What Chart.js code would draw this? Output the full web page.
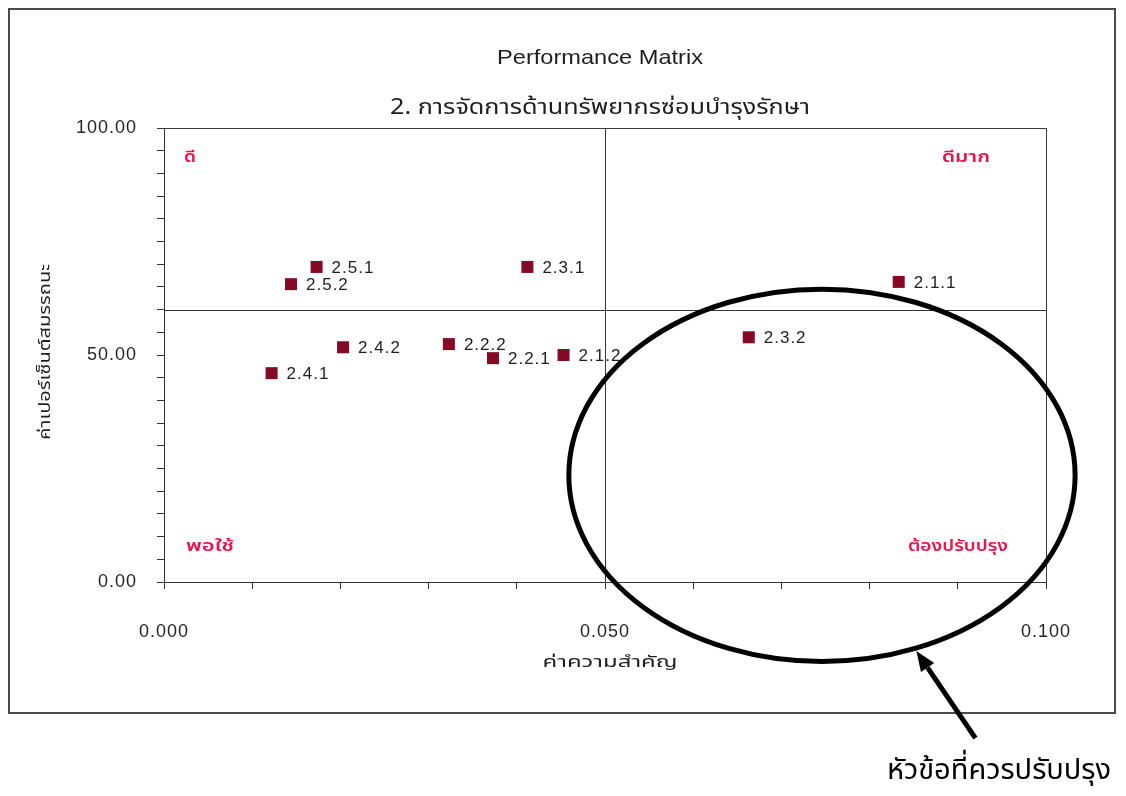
<!DOCTYPE html>
<html>
<head>
<meta charset="utf-8">
<title>Performance Matrix</title>
<script src="https://cdn.jsdelivr.net/npm/chart.js@4/dist/chart.umd.min.js"></script>
<style>
  html, body { margin: 0; padding: 0; background: #ffffff; }
  #wrap { position: relative; width: 1126px; height: 796px; }
</style>
</head>
<body>
<div id="wrap"><canvas id="matrix" width="1126" height="796"></canvas></div>
<script>
// Sub-criteria codes with importance (x) and performance percentage (y)
const itemCodes   = ['2.1.1', '2.1.2', '2.2.1', '2.2.2', '2.3.1', '2.3.2', '2.4.1', '2.4.2', '2.5.1', '2.5.2'];
const importance  = [0.0833, 0.0453, 0.0373, 0.0323, 0.0412, 0.0663, 0.0122, 0.0203, 0.0173, 0.0144];
const performance = [66.1, 50.0, 49.3, 52.4, 69.4, 53.9, 46.0, 51.7, 69.4, 65.6];

// Quadrant split values
const importanceCut  = 0.05;
const performanceCut = 60;

// Axis tick labels shown
const xLabelTicks = [0, 0.05, 0.1];
const yLabelTicks = [0, 50, 100];

// Quadrant captions
const quadrantNames = { topLeft: 'ดี', topRight: 'ดีมาก', bottomLeft: 'พอใช้', bottomRight: 'ต้องปรับปรุง' };

const titleText    = 'Performance Matrix';
const subtitleText = '2. การจัดการด้านทรัพยากรซ่อมบำรุงรักษา';
const xAxisTitle   = 'ค่าความสำคัญ';
const yAxisTitle   = 'ค่าเปอร์เซ็นต์สมรรถนะ';
const calloutText  = 'หัวข้อที่ควรปรับปรุง';

// Highlight ring (in axis units) around the improvement area, with its pointer
const ringCenter = { x: 0.0746, y: 23.5 };
const ringRadius = { x: 0.0287, y: 41 };
const pointerTip  = { x: 0.0853, y: -15.2 };
const pointerTail = { x: 0.0920, y: -34.4 };

const LATIN = '"Liberation Sans", Arial, sans-serif';
const THAI  = '"Noto Sans Thai", "Noto Sans", "Liberation Sans", sans-serif';
const MARK  = '#840a26';
const RED   = '#e8154a';

// Draws a string squeezed or stretched horizontally to a given width
function fitText(ctx, text, x, y, font, width, align) {
  ctx.save();
  ctx.letterSpacing = '0px';
  ctx.font = font;
  const w = ctx.measureText(text).width || 1;
  ctx.translate(x, y);
  ctx.scale(width / w, 1);
  ctx.textAlign = align;
  ctx.textBaseline = 'middle';
  ctx.fillText(text, 0, 0);
  ctx.restore();
}

const decorations = {
  id: 'decorations',
  beforeDraw(chart) {
    const ctx = chart.ctx;
    // slightly open spacing for the tick labels
    ctx.letterSpacing = '1px';
    ctx.save();
    ctx.fillStyle = '#ffffff';
    ctx.fillRect(0, 0, chart.width, chart.height);
    // outer frame
    ctx.strokeStyle = '#4a4a4a';
    ctx.lineWidth = 2;
    ctx.strokeRect(9, 9, 1106, 704);
    ctx.restore();
  },
  beforeDatasetsDraw(chart) {
    const { ctx, chartArea: a, scales: { x, y } } = chart;
    ctx.save();
    // plot border (top / right)
    ctx.strokeStyle = '#3a3a3a';
    ctx.lineWidth = 1;
    ctx.beginPath();
    ctx.moveTo(a.left, a.top + 0.5);
    ctx.lineTo(a.right + 0.5, a.top + 0.5);
    ctx.lineTo(a.right + 0.5, a.bottom);
    ctx.stroke();
    // quadrant split lines
    const cx = Math.round(x.getPixelForValue(importanceCut)) + 0.5;
    const cy = Math.round(y.getPixelForValue(performanceCut)) + 0.5;
    ctx.strokeStyle = '#333333';
    ctx.beginPath();
    ctx.moveTo(cx, a.top); ctx.lineTo(cx, a.bottom);
    ctx.moveTo(a.left, cy); ctx.lineTo(a.right, cy);
    ctx.stroke();

    // quadrant captions
    ctx.fillStyle = RED;
    const qf = '600 15px ' + THAI;
    fitText(ctx, quadrantNames.topLeft, a.left + 20, a.top + 31, qf, 12, 'left');
    fitText(ctx, quadrantNames.bottomLeft, a.left + 22, a.bottom - 34, qf, 48, 'left');
    fitText(ctx, quadrantNames.topRight, a.right - 56, a.top + 31, qf, 48, 'right');
    fitText(ctx, quadrantNames.bottomRight, a.right - 38, a.bottom - 34, qf, 100, 'right');

    // titles
    ctx.fillStyle = '#1e1e1e';
    fitText(ctx, titleText, 600, 58, '21px ' + LATIN, 206, 'center');
    fitText(ctx, subtitleText, 600, 110, '21px ' + THAI, 420, 'center');

    // axis titles
    fitText(ctx, xAxisTitle, 610, 664, '16px ' + THAI, 135, 'center');
    ctx.save();
    ctx.translate(47, 352);
    ctx.rotate(-Math.PI / 2);
    fitText(ctx, yAxisTitle, 0, 0, '16px ' + THAI, 176, 'center');
    ctx.restore();
    ctx.restore();
  },
  afterDatasetsDraw(chart) {
    const { ctx, scales: { x, y } } = chart;
    const meta = chart.getDatasetMeta(0);
    ctx.save();
    // point codes
    ctx.fillStyle = '#1e1e1e';
    ctx.font = '17px ' + LATIN;
    ctx.letterSpacing = '1px';
    ctx.textAlign = 'left';
    ctx.textBaseline = 'middle';
    meta.data.forEach((pt, i) => {
      ctx.fillText(itemCodes[i], pt.x + 15, pt.y + 1);
    });
    ctx.letterSpacing = '0px';

    // highlight ring
    const ex = x.getPixelForValue(ringCenter.x);
    const ey = y.getPixelForValue(ringCenter.y);
    const rx = x.getPixelForValue(ringCenter.x + ringRadius.x) - ex;
    const ry = ey - y.getPixelForValue(ringCenter.y + ringRadius.y);
    ctx.strokeStyle = '#000000';
    ctx.lineWidth = 5;
    ctx.beginPath();
    ctx.ellipse(ex, ey, rx, ry, 0, 0, Math.PI * 2);
    ctx.stroke();

    // pointer arrow
    const tx = x.getPixelForValue(pointerTip.x), ty = y.getPixelForValue(pointerTip.y);
    const sx = x.getPixelForValue(pointerTail.x), sy = y.getPixelForValue(pointerTail.y);
    const ang = Math.atan2(ty - sy, tx - sx);
    const head = 20, half = 8;
    const bx = tx - head * Math.cos(ang), by = ty - head * Math.sin(ang);
    ctx.beginPath();
    ctx.moveTo(sx, sy);
    ctx.lineTo(bx, by);
    ctx.stroke();
    ctx.fillStyle = '#000000';
    ctx.beginPath();
    ctx.moveTo(tx, ty);
    ctx.lineTo(bx + half * Math.sin(ang), by - half * Math.cos(ang));
    ctx.lineTo(bx - half * Math.sin(ang), by + half * Math.cos(ang));
    ctx.closePath();
    ctx.fill();

    // callout caption
    ctx.fillStyle = '#000000';
    ctx.font = '29px ' + THAI;
    ctx.textAlign = 'center';
    ctx.fillText(calloutText, 999, 773);
    ctx.restore();
  }
};

new Chart(document.getElementById('matrix'), {
  type: 'scatter',
  data: {
    datasets: [{
      label: 'items',
      data: importance.map((v, i) => ({ x: v, y: performance[i] })),
      pointStyle: 'rect',
      pointRadius: 8.5,
      pointHoverRadius: 8.5,
      backgroundColor: MARK,
      borderColor: MARK,
      borderWidth: 0
    }]
  },
  options: {
    responsive: false,
    animation: false,
    events: [],
    layout: { padding: { left: 0, top: 128, right: 80, bottom: 0 } },
    plugins: { legend: { display: false }, tooltip: { enabled: false }, title: { display: false } },
    scales: {
      x: {
        type: 'linear',
        min: 0, max: 0.1,
        afterFit(s) { s.height = 214; },
        afterBuildTicks(s) {
          s.ticks = Array.from({ length: 11 }, (_, k) => ({ value: k / 100 }));
        },
        border: { display: true, color: '#333333', width: 1 },
        grid: { drawOnChartArea: false, drawTicks: true, tickLength: 7, color: '#333333' },
        ticks: {
          autoSkip: false,
          maxRotation: 0,
          padding: 32,
          color: '#262626',
          font: { family: LATIN, size: 18 },
          callback(v) {
            return xLabelTicks.some(t => Math.abs(t - v) < 1e-9) ? Number(v).toFixed(3) : '';
          }
        }
      },
      y: {
        type: 'linear',
        min: 0, max: 100,
        afterFit(s) { s.width = 164; },
        afterBuildTicks(s) {
          s.ticks = Array.from({ length: 21 }, (_, k) => ({ value: k * 5 }));
        },
        border: { display: true, color: '#333333', width: 1 },
        grid: { drawOnChartArea: false, drawTicks: true, tickLength: 7, color: '#333333' },
        ticks: {
          autoSkip: false,
          padding: 20,
          color: '#262626',
          font: { family: LATIN, size: 18 },
          callback(v) {
            return yLabelTicks.includes(v) ? Number(v).toFixed(2) : '';
          }
        }
      }
    }
  },
  plugins: [decorations]
});
</script>
</body>
</html>
